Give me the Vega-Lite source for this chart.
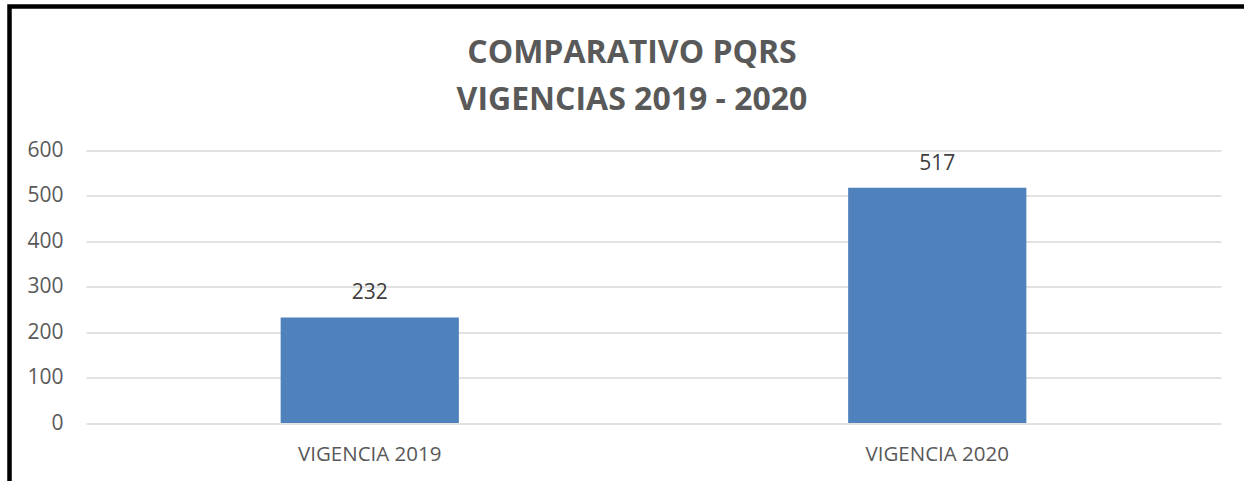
{
  "$schema": "https://vega.github.io/schema/vega-lite/v6.json",
  "autosize": "none",
  "width": 1245,
  "height": 484,
  "padding": {"left": 9.5, "top": 6.5, "right": 0, "bottom": 0},
  "background": "white",
  "config": {
    "view": {"stroke": "black", "strokeWidth": 4.5},
    "font": "Open Sans"
  },
  "title": {
    "text": ["COMPARATIVO PQRS", "VIGENCIAS 2019 - 2020"],
    "font": "Open Sans",
    "fontSize": 32,
    "fontWeight": "bold",
    "color": "#595959",
    "anchor": "middle",
    "frame": "group",
    "lineHeight": 47,
    "offset": -110
  },
  "data": {
    "values": [
      {"vigencia": "VIGENCIA 2019", "pqrs": 232},
      {"vigencia": "VIGENCIA 2020", "pqrs": 517}
    ]
  },
  "encoding": {
    "x": {
      "field": "vigencia",
      "type": "nominal",
      "sort": null,
      "scale": {"range": [76.5, 1211.5], "paddingInner": 0, "paddingOuter": 0},
      "axis": {
        "title": null,
        "orient": "bottom",
        "offset": -67.5,
        "domain": false,
        "ticks": false,
        "tickSize": 0,
        "labelPadding": 21,
        "labelAngle": 0,
        "labelFont": "Open Sans",
        "labelFontSize": 20.5,
        "labelColor": "#595959",
        "grid": false
      }
    },
    "y": {
      "field": "pqrs",
      "type": "quantitative",
      "scale": {"domain": [0, 600], "range": [416.5, 143.5], "nice": false},
      "axis": {
        "title": null,
        "orient": "left",
        "offset": -76.5,
        "values": [0, 100, 200, 300, 400, 500, 600],
        "domain": false,
        "ticks": false,
        "tickSize": 0,
        "labelPadding": 23,
        "labelFont": "Open Sans",
        "labelFontSize": 21,
        "labelColor": "#595959",
        "grid": true,
        "gridColor": "#D9D9D9",
        "gridWidth": 1.5
      }
    }
  },
  "layer": [
    {
      "mark": {"type": "bar", "color": "#4F81BD", "width": {"band": 0.314}}
    },
    {
      "mark": {"type": "text", "baseline": "alphabetic", "dy": -18, "fontSize": 21, "color": "#404040", "font": "Open Sans"},
      "encoding": {"text": {"field": "pqrs", "type": "quantitative"}}
    }
  ]
}
